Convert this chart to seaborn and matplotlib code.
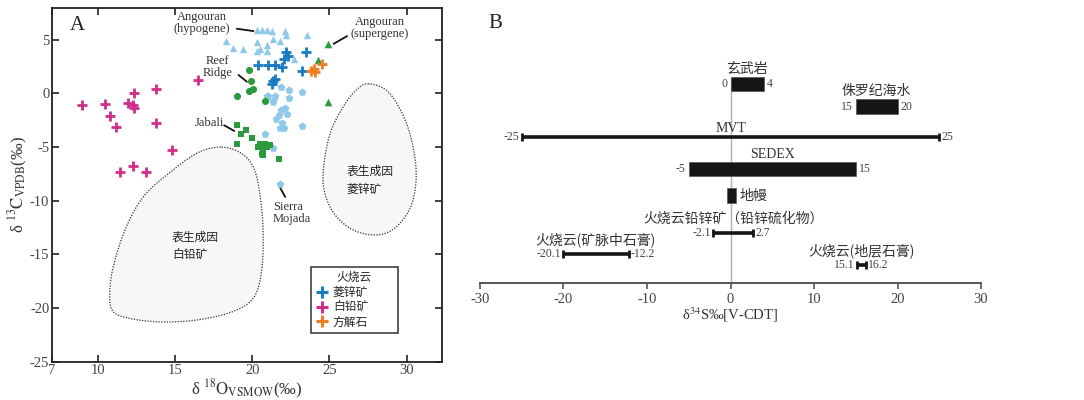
import numpy as np
import pandas as pd
import matplotlib
matplotlib.use("Agg")
import matplotlib.pyplot as plt
from matplotlib.lines import Line2D
from matplotlib.patches import Polygon
import seaborn as sns

# ---------------- data: panel A ----------------
hypo_x = [18.26, 18.77, 19.36, 20.29, 20.62, 20.94, 21.27, 20.29, 20.51, 20.94, 21.37, 21.81, 22.13, 22.17, 23.54, 20.29, 20.94, 22.67]
hypo_y = [4.93, 4.22, 4.15, 5.87, 5.93, 5.87, 5.81, 4.78, 4.15, 4.53, 5.09, 4.84, 5.81, 5.40, 5.49, 3.99, 3.99, 3.22]
super_x = [24.88, 24.25, 24.90]
super_y = [4.62, 3.12, -0.79]
reef_x = [19.75, 19.90, 20.01, 19.81, 19.03, 20.79]
reef_y = [2.18, 1.18, 0.40, 0.24, -0.22, -0.75]
jabali_x = [19.03, 19.60, 19.27, 19.97, 18.99, 20.51, 20.83, 20.68, 20.62, 20.94, 21.16, 21.72, 20.36, 20.72]
jabali_y = [-2.94, -3.41, -3.81, -4.19, -4.75, -4.75, -4.69, -5.22, -5.69, -5.00, -4.81, -6.09, -4.97, -5.78]
sierra_x = [20.94, 21.37, 22.35, 21.85, 22.13, 21.70, 22.24, 21.55, 21.91, 22.02, 23.21, 21.76, 20.83, 21.37, 21.76,
            21.87, 22.39, 23.21, 21.00, 21.48, 21.33]
sierra_y = [-0.22, -0.69, -0.44, -1.57, -1.38, -2.00, -1.94, -2.41, -2.72, -3.19, -3.04, -3.19, -3.75, -5.06, -8.44,
            0.62, 0.34, 0.15, -0.28, -0.22, -0.84]
smith_x = [20.36, 21.00, 21.48, 21.91, 22.19, 22.30, 22.08, 23.49, 23.25, 21.37, 21.26, 21.48]
smith_y = [2.68, 2.68, 2.68, 2.43, 3.84, 3.53, 3.22, 3.84, 2.12, 1.18, 0.87, 1.34]
ceru_x = [8.93, 10.44, 10.75, 11.16, 11.92, 12.24, 12.32, 12.35, 13.77, 13.73, 14.81, 16.48, 11.42, 12.28, 13.12]
ceru_y = [-1.10, -0.94, -2.06, -3.13, -0.85, -1.10, -1.35, 0.06, 0.40, -2.75, -5.28, 1.22, -7.28, -6.78, -7.28]
calc_x = [23.97, 24.08, 24.51, 23.80]
calc_y = [2.28, 1.97, 2.75, 2.12]

# supergene fields (outline vertices)
cer_field_x = [18.0, 19.3, 20.1, 20.5, 20.7, 20.6, 20.1, 18.8, 16.5, 14.0, 11.8, 10.9, 10.75, 11.0, 11.8, 13.0, 14.8, 16.5]
cer_field_y = [-5.0, -5.6, -7.0, -9.5, -13.0, -16.5, -19.0, -20.3, -21.1, -21.3, -20.9, -20.2, -18.5, -16.0, -12.5, -9.5, -7.2, -5.5]
smi_field_x = [27.5, 28.6, 29.4, 30.1, 30.55, 30.6, 30.2, 29.2, 28.0, 26.5, 25.3, 24.65, 24.65, 25.1, 26.0, 26.8]
smi_field_y = [0.9, 0.4, -1.0, -3.2, -6.0, -8.5, -10.8, -12.6, -13.2, -12.7, -11.2, -9.0, -6.5, -3.5, -1.0, 0.4]

legend_labels = ["菱锌矿", "白铅矿", "方解石"]

# ---------------- data: panel B ----------------
bar_names = ["玄武岩", "侏罗纪海水", "SEDEX", "地幔"]
bar_lo = [0, 15, -5, -0.4]
bar_hi = [4, 20, 15, 0.6]
bar_show_vals = [True, True, True, False]
rng_names = ["MVT", "火烧云铅锌矿（铅锌硫化物）", "火烧云(矿脉中石膏)", "火烧云(地层石膏)"]
rng_lo = [-25, -2.1, -20.1, 15.1]
rng_hi = [25, 2.7, -12.2, 16.2]
xticks_b = [-30, -20, -10, 0, 10, 20, 30]

# layout (row positions in panel B, pixel-like units from top)
bar_rows = [84, 106.5, 169, 195.5]
bar_h = [14, 15, 14, 15]
rng_rows = [137, 233, 254, 265]

# ---------------- style ----------------
sns.set_theme(style="ticks")
SERIF = ["Liberation Serif", "DejaVu Serif"]
CJK = ["Noto Sans CJK SC", "DejaVu Sans"]
plt.rcParams["font.family"] = SERIF
plt.rcParams["mathtext.fontset"] = "stix"
plt.rcParams["axes.unicode_minus"] = False

LBLUE = "#8fc9ea"
BLUE = "#1b7bc2"
PINK = "#cf2f8a"
ORANGE = "#ef7d22"
GREEN = "#2a9a3c"

fig = plt.figure(figsize=(10.84, 4.0), dpi=100)
fig.patch.set_facecolor("white")

# ================= Panel A =================
ax = fig.add_axes([0.048, 0.096, 0.3597, 0.885])


def smooth_closed(xs, ys, n=24):
    P = np.column_stack([xs, ys])
    N = len(P)
    out = []
    t = np.linspace(0, 1, n, endpoint=False)[:, None]
    for i in range(N):
        p0, p1, p2, p3 = P[i - 1], P[i], P[(i + 1) % N], P[(i + 2) % N]
        out.append(0.5 * ((2 * p1) + (-p0 + p2) * t + (2 * p0 - 5 * p1 + 4 * p2 - p3) * t ** 2
                          + (-p0 + 3 * p1 - 3 * p2 + p3) * t ** 3))
    return np.vstack(out)


for fx, fy in [(cer_field_x, cer_field_y), (smi_field_x, smi_field_y)]:
    pts = smooth_closed(fx, fy)
    ax.add_patch(Polygon(pts, closed=True, facecolor="#f7f7f6", edgecolor="#333333",
                         linestyle=(0, (1.0, 1.2)), linewidth=0.9, zorder=1))

groups = [
    (hypo_x, hypo_y, "^", LBLUE, 28, None),
    (sierra_x, sierra_y, "p", LBLUE, 34, None),
    (reef_x, reef_y, "o", GREEN, 26, None),
    (jabali_x, jabali_y, "s", GREEN, 22, None),
    (super_x, super_y, "^", GREEN, 30, None),
    (smith_x, smith_y, "+", BLUE, 55, 2.0),
    (ceru_x, ceru_y, "+", PINK, 55, 2.0),
    (calc_x, calc_y, "+", ORANGE, 55, 2.0),
]
for gx, gy, mk, col, s, lw in groups:
    df = pd.DataFrame({"x": gx, "y": gy})
    if mk == "+":
        sns.scatterplot(data=df, x="x", y="y", marker=mk, color=col, s=s, linewidth=lw, ax=ax, zorder=4)
    else:
        sns.scatterplot(data=df, x="x", y="y", marker=mk, color=col, s=s, linewidth=0, ax=ax, zorder=3)

ax.set_xlim(7, 32.3)
ax.set_ylim(-25, 8)
ax.set_xticks([7, 10, 15, 20, 25, 30])
ax.set_yticks([-25, -20, -15, -10, -5, 0, 5])
ax.tick_params(direction="in", top=True, right=True, length=5, width=1.2, labelsize=10.5,
               colors="#222222", labelcolor="#444444", pad=2)
for sp in ax.spines.values():
    sp.set_linewidth(1.3)
    sp.set_color("#222222")
ax.set_xlabel("δ $^{18}\\mathrm{O}_{\\mathrm{VSMOW}}$(‰)", fontsize=12, labelpad=0, color="#333333")
ax.set_ylabel("δ $^{13}\\mathrm{C}_{\\mathrm{VPDB}}$(‰)", fontsize=12, labelpad=0, color="#333333")
ax.text(0.045, 0.975, "A", transform=ax.transAxes, fontsize=15, va="top", ha="left", color="#222222")

ann_fs = 9
ax.text(16.72, 6.55, "Angouran\n(hypogene)", ha="center", va="center", fontsize=ann_fs, color="#333333",
        linespacing=1.0)
ax.plot([18.99, 20.07], [6.03, 5.81], color="#111111", lw=1.3)
ax.text(28.25, 6.09, "Angouran\n(supergene)", ha="center", va="center", fontsize=ann_fs, color="#333333",
        linespacing=1.0)
ax.plot([26.14, 25.27], [5.34, 4.62], color="#111111", lw=1.3)
ax.text(17.73, 2.44, "Reef\nRidge", ha="center", va="center", fontsize=ann_fs, color="#333333",
        linespacing=1.0)
ax.plot([19.10, 19.64], [1.72, 1.09], color="#111111", lw=1.3)
ax.text(18.17, -2.78, "Jabali", ha="right", va="center", fontsize=ann_fs, color="#333333")
ax.plot([18.17, 18.82], [-2.97, -3.5], color="#111111", lw=1.3)
ax.text(21.33, -11.15, "Sierra\nMojada", ha="left", va="center", fontsize=ann_fs, color="#333333",
        linespacing=1.0)
ax.plot([21.81, 22.13], [-8.81, -9.65], color="#111111", lw=1.3)

ax.text(14.77, -14.25, "表生成因\n白铅矿", ha="left", va="center", fontsize=8.5, family=CJK,
        color="#222222", linespacing=1.5)
ax.text(26.13, -8.1, "表生成因\n菱锌矿", ha="left", va="center", fontsize=8.5, family=CJK,
        color="#222222", linespacing=1.5)

handles = [Line2D([], [], marker="+", color=c, linestyle="", markersize=8, markeredgewidth=2.2)
           for c in [BLUE, PINK, ORANGE]]
leg = ax.legend(handles, legend_labels, title="火烧云", loc="lower left",
                bbox_to_anchor=(0.663, 0.08, 0.225, 0.183), mode="expand",
                prop={"family": CJK, "size": 8.5}, title_fontproperties={"family": CJK, "size": 8.5},
                frameon=True, fancybox=False, borderpad=0.4, labelspacing=0.15, handletextpad=0.3,
                handlelength=1.2, borderaxespad=0)
leg.get_frame().set_edgecolor("#111111")
leg.get_frame().set_linewidth(1.2)
leg.get_frame().set_facecolor("white")
leg.set_zorder(6)

# ================= Panel B =================
bx = fig.add_axes([0.4428, 0.2925, 0.4622, 0.6875])
bx.set_xlim(-30, 30)
bx.set_ylim(283, 8)
for s in ["left", "right", "top"]:
    bx.spines[s].set_visible(False)
bx.spines["bottom"].set_color("#555555")
bx.spines["bottom"].set_linewidth(1.4)
bx.set_yticks([])
bx.set_xticks(xticks_b)
bx.tick_params(axis="x", direction="out", length=4, width=1.2, colors="#555555", labelcolor="#444444",
               labelsize=10.5, pad=3)
bx.set_xlabel("δ$^{34}$S‰[V-CDT]", fontsize=10.5, labelpad=0, color="#333333")
bx.vlines(0, 78, 283, color="#b0b0b0", lw=1.0, zorder=1)
bx.text(-28.2, 23, "B", fontsize=15, ha="center", va="center", color="#222222")

val_fs = 8.5
for name, lo, hi, yc, h, show in zip(bar_names, bar_lo, bar_hi, bar_rows, bar_h, bar_show_vals):
    bx.barh(yc, hi - lo, left=lo, height=h, color="#151515", edgecolor="#555555", lw=0.5, zorder=3)
    fam = CJK if any(ord(ch) > 127 for ch in name) else SERIF
    if show:
        bx.text((lo + hi) / 2, yc - h / 2 - 8, name, ha="center", va="center", fontsize=10, family=fam,
                color="#333333")
        bx.text(lo - 0.35, yc, f"{lo:g}", ha="right", va="center", fontsize=val_fs, color="#444444")
        bx.text(hi + 0.35, yc, f"{hi:g}", ha="left", va="center", fontsize=val_fs, color="#444444")
    else:
        bx.text(hi + 0.5, yc, name, ha="left", va="center", fontsize=10, family=fam, color="#333333")

for name, lo, hi, yc in zip(rng_names, rng_lo, rng_hi, rng_rows):
    bx.hlines(yc, lo, hi, color="#151515", lw=2.6, zorder=3)
    bx.vlines([lo, hi], yc - 4, yc + 4, color="#151515", lw=2.0, zorder=3)
    fam = CJK if any(ord(ch) > 127 for ch in name) else SERIF
    off = 9 if name == "MVT" else 14
    bx.text((lo + hi) / 2, yc - off, name, ha="center", va="center", fontsize=10, family=fam,
            color="#333333")
    bx.text(lo - 0.25, yc, f"{lo:g}", ha="right", va="center", fontsize=val_fs, color="#444444")
    bx.text(hi + 0.25, yc, f"{hi:g}", ha="left", va="center", fontsize=val_fs, color="#444444")

fig.savefig("out.png", dpi=100, facecolor="white")
